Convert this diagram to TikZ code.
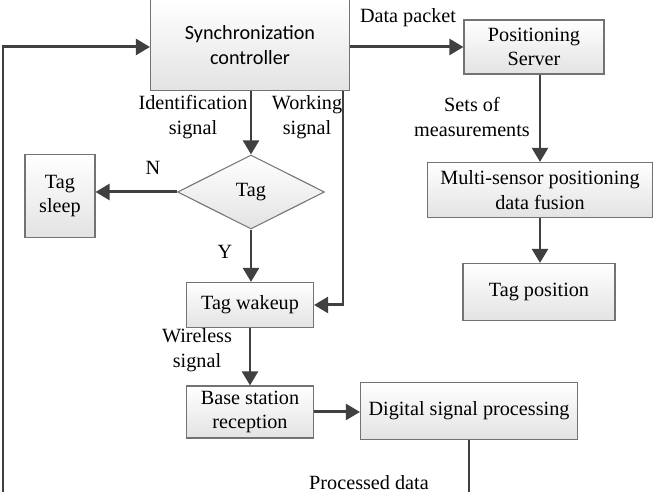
\documentclass[tikz,border=0pt]{standalone}
\usepackage{fontspec}
\setmainfont{Liberation Serif}
\newfontfamily\calibri{Carlito}
\usetikzlibrary{shapes.geometric,arrows.meta}

\begin{document}
\begin{tikzpicture}[x=0.02cm, y=-0.02cm,
		every node/.style={font=\fontsize{11.5}{14}\selectfont, align=center, inner sep=1pt},
		block/.style={draw=gray!90!black, line width=0.6pt, top color=white, bottom color=black!11, inner sep=0pt},
		flow/.style={line width=1.7pt, draw=black!75, -{Triangle[length=8pt,width=9pt]}}]
	\clip (0,0) rectangle (654,492);
	% blocks
	\node[block, minimum width=3.98cm, minimum height=1.82cm, font=\calibri\fontsize{11.5}{14}\selectfont] (sync) at (250,45) {Synchronization\\controller};
	\node[block, minimum width=2.8cm, minimum height=1.08cm] (server) at (534,47) {Positioning\\Server};
	\node[block, minimum width=4.5cm, minimum height=1.1cm] (fusion) at (540,190) {Multi-sensor positioning\\data fusion};
	\node[block, minimum width=3.04cm, minimum height=1.14cm] (tagpos) at (539,292) {Tag position};
	\node[block, diamond, aspect=2, minimum width=2.94cm, minimum height=1.48cm] (tag) at (251,192) {Tag};
	\node[block, minimum width=1.4cm, minimum height=1.66cm] (sleep) at (60,196) {Tag\\sleep};
	\node[block, minimum width=2.54cm, minimum height=0.9cm] (wakeup) at (250,305) {Tag wakeup};
	\node[block, minimum width=2.54cm, minimum height=1.04cm] (base) at (250,412) {Base station\\reception};
	\node[block, minimum width=4.34cm, minimum height=1.14cm] (dsp) at (469,411) {Digital signal processing};

	% labels
	\node (lpacket) at (408,18) {Data packet};
	\node (lsets) at (472,117) {Sets of\\measurements};
	\node (lident) at (193,117) {Identification\\signal};
	\node (lwork) at (307,117) {Working\\signal};
	\node (lno) at (153,168) {N};
	\node (lyes) at (225,252) {Y};
	\node (lwireless) at (197,350) {Wireless\\signal};
	\node (lproc) at (369,483) {Processed data};

	\coordinate (wk) at (343,305);
	\coordinate (lp) at (3,520);

	% connectors
	\draw[flow] (sync.east |- server.west) -- (server.west);
	\draw[flow] (server.south -| fusion.north) -- (fusion.north);
	\draw[flow] (fusion.south) -- (fusion.south |- tagpos.north);
	\draw[flow] (sync.south -| tag.north) -- (tag.north);
	\draw[flow] (tag.west) -- (sleep.east |- tag.west);
	\draw[flow] (tag.south) -- (tag.south |- wakeup.north);
	\draw[flow] (sync.south -| wk) |- (wakeup.east);
	\draw[flow] (wakeup) -- (base);
	\draw[flow] (base.east) -- (base.east -| dsp.west);
	\draw[flow] (dsp.south) |- (lp) |- ([yshift=-0.04cm]sync.west);
\end{tikzpicture}
\end{document}
